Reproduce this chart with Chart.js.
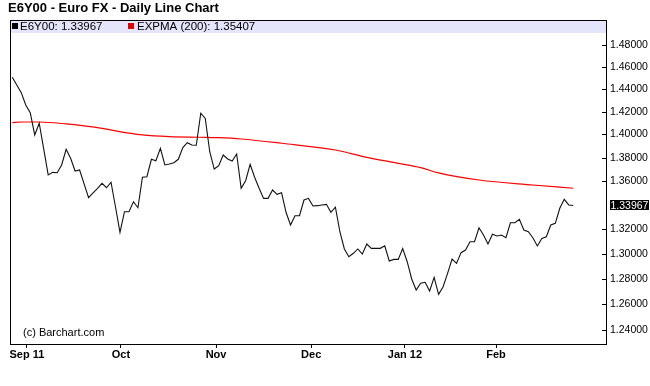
<!DOCTYPE html>
<html>
<head>
<meta charset="utf-8">
<script src="https://cdn.jsdelivr.net/npm/chart.js@4.4.0/dist/chart.umd.min.js"></script>
<style>
  body { margin: 0; background: #fff; }
  canvas { display: block; }
</style>
</head>
<body>
<canvas id="myChart" width="650" height="386"></canvas>
<script>
// Daily closes, Aug 29 2011 .. Feb 24 2012 (one per trading day)
const closes = [
  1.4506, 1.4437, 1.4368, 1.4259, 1.4191, 1.3996, 1.4098, 1.3875, 1.3653, 1.3675,
  1.3672, 1.3738, 1.3872, 1.3795, 1.3686, 1.3695, 1.3577, 1.3462, 1.3501, 1.3540,
  1.3582, 1.3545, 1.3591, 1.3384, 1.3175, 1.3345, 1.3345, 1.3428, 1.3378, 1.3633,
  1.3638, 1.3786, 1.3774, 1.3881, 1.3738, 1.3746, 1.3757, 1.3786, 1.3886, 1.3929,
  1.3909, 1.3907, 1.4186, 1.4140, 1.3851, 1.3703, 1.3732, 1.3823, 1.3789, 1.3772,
  1.3832, 1.3540, 1.3604, 1.3743, 1.3633, 1.3540, 1.3456, 1.3456, 1.3526, 1.3490,
  1.3503, 1.3340, 1.3235, 1.3312, 1.3312, 1.3442, 1.3456, 1.3392, 1.3395, 1.3401,
  1.3406, 1.3340, 1.3382, 1.3180, 1.3040, 1.2977, 1.3005, 1.3040, 1.2999, 1.3080,
  1.3045, 1.3045, 1.3045, 1.3066, 1.2943, 1.2956, 1.2956, 1.3044, 1.2937, 1.2799,
  1.2712, 1.2765, 1.2773, 1.2704, 1.2812, 1.2678, 1.2738, 1.2844, 1.2959, 1.2924,
  1.3010, 1.3031, 1.3099, 1.3099, 1.3213, 1.3153, 1.3080, 1.3159, 1.3145, 1.3153,
  1.3131, 1.3254, 1.3254, 1.3282, 1.3194, 1.3180, 1.3131, 1.3064, 1.3126, 1.3139,
  1.3235, 1.3249, 1.3373, 1.3448, 1.3401, 1.33967
];

// EXPMA(200) read at a few bar positions
const emaIdx = [0, 2, 6, 12, 20, 23, 29, 35, 42, 46, 51, 60, 72, 79, 86, 91, 95, 104, 116, 125];
const emaVals = [1.4103, 1.4109, 1.4109, 1.4092, 1.4054, 1.4031, 1.3996, 1.3981, 1.3976, 1.3972,
                 1.3961, 1.3924, 1.3866, 1.3803, 1.3752, 1.3715, 1.3670, 1.3610, 1.3568, 1.35407];

// x axis month labels and the bar position they sit on
const monthLabels = ['Sep 11', 'Oct', 'Nov', 'Dec', 'Jan 12', 'Feb'];
const monthPos = [3.27, 24.2, 45.4, 66.6, 87.5, 107.8];

// right axis price ticks (1.34 is covered by the last-price box)
const priceTicks = [1.24, 1.26, 1.28, 1.30, 1.32, 1.36, 1.38, 1.40, 1.42, 1.44, 1.46, 1.48];

const lastClose = 1.33967;
const lastEma = 1.35407;
const FONT = '"Liberation Sans", Arial, sans-serif';

const framePlugin = {
  id: 'frame',
  beforeDraw(chart) {
    const ctx = chart.ctx;
    ctx.save();
    ctx.fillStyle = '#fff';
    ctx.fillRect(0, 0, chart.width, chart.height);
    ctx.restore();
  },
  beforeDatasetsDraw(chart) {
    const { ctx, chartArea: a } = chart;
    ctx.save();
    ctx.fillStyle = '#e4e4fa';
    ctx.fillRect(a.left, a.top, a.right - a.left, 13);
    ctx.restore();
  },
  afterDraw(chart) {
    const { ctx, chartArea: a } = chart;
    const y = chart.scales.y;
    ctx.save();

    // plot border
    ctx.strokeStyle = '#000';
    ctx.lineWidth = 1;
    ctx.strokeRect(a.left + 0.5, a.top + 0.5, a.right - a.left, a.bottom - a.top);

    // inward tick marks on the price axis
    ctx.beginPath();
    priceTicks.forEach(v => {
      const py = Math.round(y.getPixelForValue(v)) + 0.5;
      ctx.moveTo(a.right - 4, py);
      ctx.lineTo(a.right + 1, py);
    });
    ctx.stroke();

    // last price box
    const ly = y.getPixelForValue(lastClose);
    ctx.fillStyle = '#000';
    ctx.fillRect(a.right + 4, Math.round(ly) - 5, 39, 10);
    ctx.fillStyle = '#fff';
    ctx.font = '10.5px ' + FONT;
    ctx.textBaseline = 'middle';
    ctx.textAlign = 'left';
    ctx.fillText(lastClose.toFixed(5), a.right + 4.5, ly + 0.5);

    // legend band text
    ctx.font = '11.5px ' + FONT;
    ctx.fillStyle = '#000';
    ctx.fillRect(12, 23, 6, 6);
    ctx.fillText('E6Y00: ' + lastClose.toFixed(5), 20, 26.5);
    ctx.fillStyle = '#e00000';
    ctx.fillRect(128, 23, 6, 6);
    ctx.fillStyle = '#000';
    ctx.fillText('EXPMA (200): ' + lastEma.toFixed(5), 137, 26.5);

    // title
    ctx.font = 'bold 13px ' + FONT;
    ctx.fillText('E6Y00 - Euro FX - Daily Line Chart', 8, 8);

    // copyright
    ctx.font = '11px ' + FONT;
    ctx.fillText('(c) Barchart.com', 23, 333);

    ctx.restore();
  }
};

const ctx = document.getElementById('myChart').getContext('2d');
const chart = new Chart(ctx, {
  type: 'line',
  data: {
    datasets: [
      {
        label: 'E6Y00',
        data: closes.map((v, i) => ({ x: i, y: v })),
        borderColor: '#111',
        borderWidth: 1.1,
        pointRadius: 0,
        tension: 0
      },
      {
        label: 'EXPMA (200)',
        data: emaIdx.map((x, i) => ({ x: x, y: emaVals[i] })),
        borderColor: '#ff0000',
        borderWidth: 1.2,
        pointRadius: 0,
        cubicInterpolationMode: 'monotone'
      }
    ]
  },
  options: {
    responsive: false,
    animation: false,
    devicePixelRatio: 1,
    layout: { padding: { left: 10, top: 20, right: 0, bottom: 0 } },
    plugins: {
      legend: { display: false },
      title: { display: false },
      tooltip: { enabled: false }
    },
    scales: {
      x: {
        type: 'linear',
        min: -0.51,
        max: 132.3,
        grid: { drawOnChartArea: false, drawTicks: true, tickLength: 4, color: '#000' },
        border: { display: false },
        afterBuildTicks: scale => { scale.ticks = monthPos.map(v => ({ value: v })); },
        afterFit: scale => { scale.height = 42; },
        ticks: {
          autoSkip: false,
          maxRotation: 0,
          padding: 0,
          color: '#000',
          font: { family: FONT, size: 11, weight: 'bold' },
          callback: (v, i) => monthLabels[i]
        }
      },
      y: {
        type: 'logarithmic',
        position: 'right',
        min: 1.2293,
        max: 1.5031,
        grid: { drawOnChartArea: false, drawTicks: false },
        border: { display: false },
        afterBuildTicks: scale => { scale.ticks = priceTicks.map(v => ({ value: v })); },
        afterFit: scale => { scale.width = 44; },
        ticks: {
          autoSkip: false,
          padding: 4,
          color: '#000',
          font: { family: FONT, size: 10.5 },
          callback: v => Number(v).toFixed(5)
        }
      }
    }
  },
  plugins: [framePlugin]
});
</script>
</body>
</html>
